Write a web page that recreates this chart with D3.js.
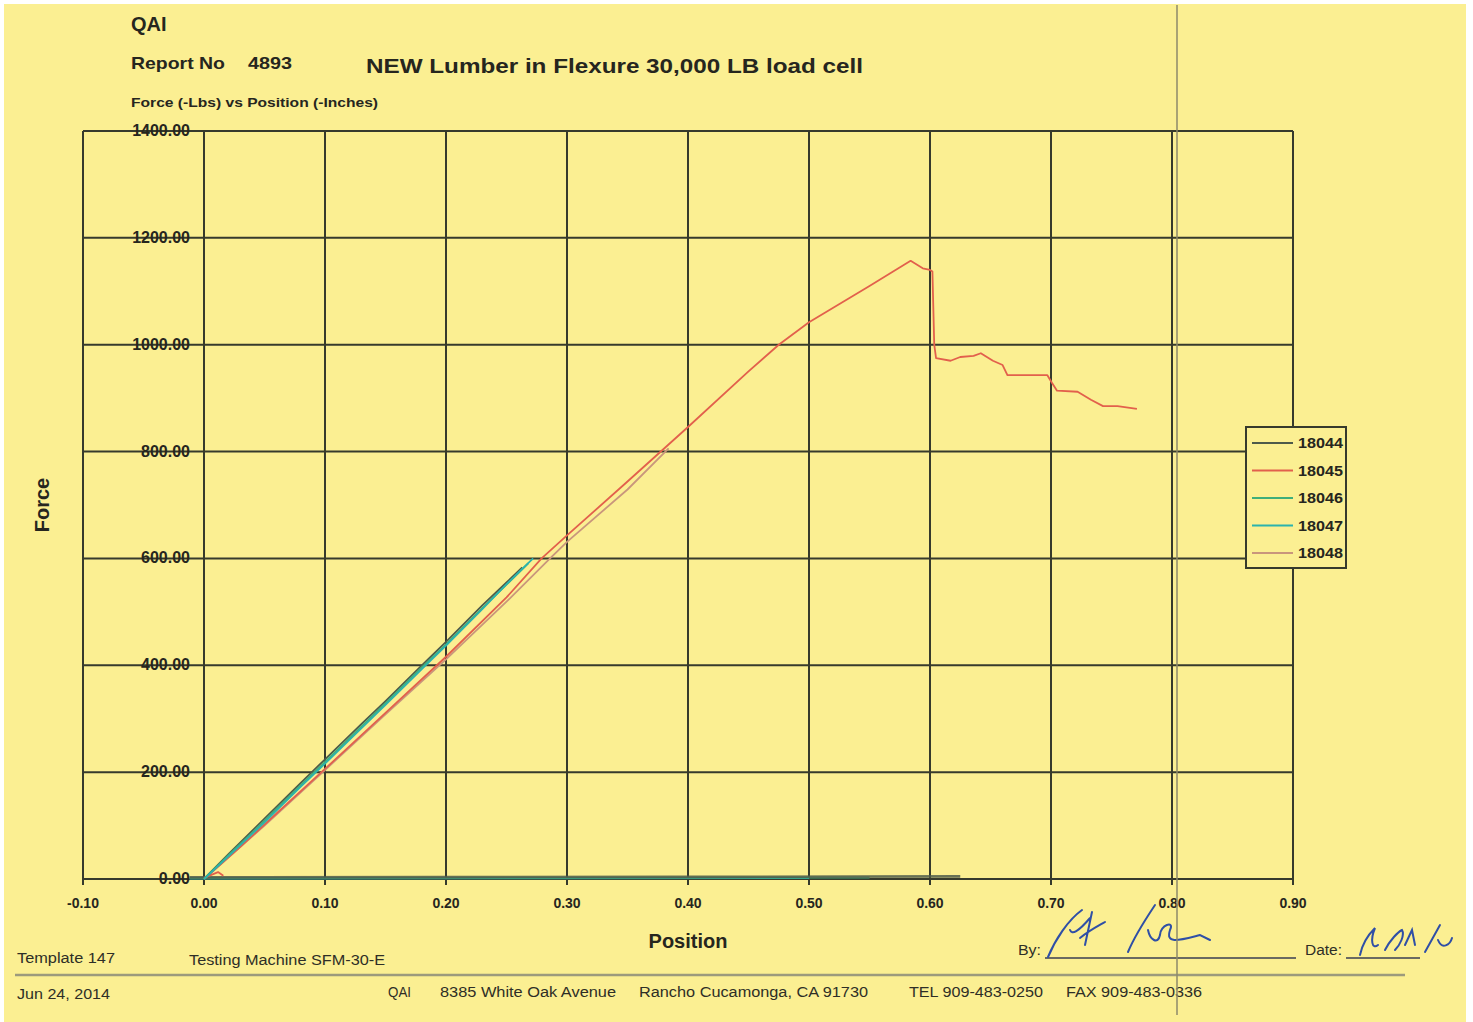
<!DOCTYPE html>
<html><head><meta charset="utf-8">
<script src="https://cdn.jsdelivr.net/npm/d3@7"></script>
<style>
html,body{margin:0;padding:0;background:#fff;}
text{font-family:"Liberation Sans",Arial,sans-serif;}
</style></head>
<body>
<svg id="chart" width="1473" height="1022"></svg>
<script>
// ---- data ----
const xTicks = [-0.10,0.00,0.10,0.20,0.30,0.40,0.50,0.60,0.70,0.80,0.90];
const yTicks = [0,200,400,600,800,1000,1200,1400];
const seriesNames = ["18044","18045","18046","18047","18048"];
const seriesColors = ["#4d5a4a","#e2604c","#3fae7a","#2bb3ad","#c9967c"];

const s18044 = [[0,0],[0.02,46],[0.05,113],[0.08,180],[0.1,224],[0.13,290],[0.15,333],[0.18,400],[0.2,444],[0.23,512],[0.25,555],[0.263,583]];
const s18044tail = [[-0.012,3],[0.2,3.5],[0.4,4],[0.625,5]];
const s18045 = [[0,0],[0.03,60],[0.05,102],[0.1,206],[0.15,311],[0.2,416],[0.25,527],[0.279,600],[0.3,643],[0.35,744],[0.4,846],[0.45,950],[0.475,1000],[0.5,1042],[0.55,1110],[0.584,1157],[0.589,1150],[0.594,1143],[0.6,1140],[0.602,1137],[0.6035,1000],[0.605,975],[0.617,970],[0.625,977],[0.636,979],[0.642,984],[0.652,970],[0.66,962],[0.664,943],[0.697,943],[0.701,928],[0.705,914],[0.722,912],[0.733,897],[0.743,885],[0.755,885],[0.771,880]];
const s18045hook = [[0,2],[0.0116,13],[0.016,6]];
const s18046 = [[0,0],[0.02,44],[0.05,109],[0.08,176],[0.1,219],[0.13,285],[0.15,329],[0.18,396],[0.2,439],[0.23,507],[0.25,551],[0.268,591]];
const s18046tail = [[-0.012,2],[0.3,2.5],[0.55,3]];
const s18047 = [[0,0],[0.02,42],[0.05,106],[0.08,173],[0.1,216],[0.13,282],[0.15,326],[0.18,393],[0.2,437],[0.23,505],[0.25,552],[0.272,600]];
const s18047tail = [[-0.012,1],[0.3,1.5],[0.5,2]];
const s18048 = [[0,0],[0.05,100],[0.1,204],[0.15,308],[0.2,411],[0.25,519],[0.286,600],[0.3,631],[0.35,729],[0.384,806]];

// draw order: tails first, then loading curves
const tails = [
  {color:seriesColors[3], data:s18047tail, w:2},
  {color:seriesColors[2], data:s18046tail, w:2},
  {color:seriesColors[0], data:s18044tail, w:2.6}
];
const curves = [
  {color:seriesColors[4], data:s18048},
  {color:seriesColors[1], data:s18045},
  {color:seriesColors[1], data:s18045hook},
  {color:seriesColors[0], data:s18044},
  {color:seriesColors[2], data:s18046},
  {color:seriesColors[3], data:s18047}
];

// ---- layout ----
const svg = d3.select("#chart");
const L=83, R=1293, T=131, B=879;
const x = d3.scaleLinear().domain([-0.1,0.9]).range([L,R]);
const y = d3.scaleLinear().domain([0,1400]).range([B,T]);
const gridColor = "#363a2c";
const txt = "#26261e";
const fmt = d => d3.format(".2f")(d).replace("\u2212","-");

// paper
svg.append("rect").attr("x",4).attr("y",4).attr("width",1462).attr("height",1018).attr("fill","#fbef92");

// header texts
svg.append("text").attr("x",131).attr("y",31).attr("font-size",20).attr("font-weight","bold").attr("fill",txt).text("QAI");
svg.append("text").attr("x",131).attr("y",69).attr("font-size",17).attr("font-weight","bold").attr("fill",txt).attr("textLength",94).attr("lengthAdjust","spacingAndGlyphs").text("Report No");
svg.append("text").attr("x",248).attr("y",69).attr("font-size",17).attr("font-weight","bold").attr("fill",txt).attr("textLength",44).attr("lengthAdjust","spacingAndGlyphs").text("4893");
svg.append("text").attr("x",366).attr("y",73).attr("font-size",20).attr("font-weight","bold").attr("fill",txt).attr("textLength",497).attr("lengthAdjust","spacingAndGlyphs").text("NEW Lumber in Flexure 30,000 LB load cell");
svg.append("text").attr("x",131).attr("y",107).attr("font-size",13).attr("font-weight","bold").attr("fill",txt).attr("textLength",247).attr("lengthAdjust","spacingAndGlyphs").text("Force (-Lbs) vs Position (-Inches)");

// gridlines
const g = svg.append("g");
g.selectAll(".vg").data(xTicks).join("line")
  .attr("x1",d=>x(d)).attr("x2",d=>x(d)).attr("y1",T).attr("y2",B+6)
  .attr("stroke",gridColor).attr("stroke-width",2);
g.selectAll(".hg").data(yTicks).join("line")
  .attr("x1",L).attr("x2",R).attr("y1",d=>y(d)).attr("y2",d=>y(d))
  .attr("stroke",gridColor).attr("stroke-width",2);

// y tick labels (sit on the gridlines)
g.selectAll(".yl").data(yTicks).join("text")
  .attr("x",190).attr("y",d=>y(d)+5).attr("text-anchor","end")
  .attr("font-size",16).attr("font-weight","bold").attr("fill",txt)
  .text(fmt);
// x tick labels
g.selectAll(".xl").data(xTicks).join("text")
  .attr("x",d=>x(d)).attr("y",908).attr("text-anchor","middle")
  .attr("font-size",14).attr("font-weight","bold").attr("fill",txt)
  .text(fmt);

// axis titles
svg.append("text").attr("transform","translate(49,505) rotate(-90)").attr("text-anchor","middle")
  .attr("font-size",20).attr("font-weight","bold").attr("fill",txt).text("Force");
svg.append("text").attr("x",688).attr("y",948).attr("text-anchor","middle")
  .attr("font-size",20).attr("font-weight","bold").attr("fill",txt).text("Position");

// series lines
const line = d3.line().x(d=>x(d[0])).y(d=>y(d[1]));
const sg = svg.append("g");
tails.forEach(s=>{
  sg.append("path").attr("d",line(s.data)).attr("fill","none")
    .attr("stroke",s.color).attr("stroke-width",s.w).attr("stroke-opacity",0.85);
});
curves.forEach(s=>{
  sg.append("path").attr("d",line(s.data)).attr("fill","none")
    .attr("stroke",s.color).attr("stroke-width",1.8).attr("stroke-linejoin","round");
});

// legend
const lg = svg.append("g");
lg.append("rect").attr("x",1246).attr("y",427).attr("width",100).attr("height",141)
  .attr("fill","#fbef92").attr("stroke",gridColor).attr("stroke-width",2);
seriesNames.forEach((n,i)=>{
  const cy = 443 + i*27.5;
  lg.append("line").attr("x1",1252).attr("x2",1293).attr("y1",cy).attr("y2",cy)
    .attr("stroke",seriesColors[i]).attr("stroke-width",2);
  lg.append("text").attr("x",1298).attr("y",cy+5).attr("font-size",14).attr("font-weight","bold")
    .attr("fill",txt).attr("textLength",45).attr("lengthAdjust","spacingAndGlyphs").text(n);
});

// footer
const ft = (tx,xx,yy,len)=>svg.append("text").attr("x",xx).attr("y",yy).attr("font-size",14)
  .attr("fill","#2e2e26").attr("textLength",len).attr("lengthAdjust","spacingAndGlyphs").text(tx);
ft("Template 147",17,963,98);
ft("Testing Machine SFM-30-E",189,965,196);
ft("Jun 24, 2014",17,999,93);
ft("QAI",388,997,23);
ft("8385 White Oak Avenue",440,997,176);
ft("Rancho Cucamonga, CA 91730",639,997,229);
ft("TEL 909-483-0250",909,997,134);
ft("FAX 909-483-0336",1066,997,136);
ft("By:",1018,955,23);
ft("Date:",1305,955,37);
svg.append("line").attr("x1",15).attr("x2",1405).attr("y1",975).attr("y2",975).attr("stroke","#9c9a7c").attr("stroke-width",2.5);
svg.append("line").attr("x1",1045).attr("x2",1296).attr("y1",958).attr("y2",958).attr("stroke","#3a3e50").attr("stroke-width",1.5);
svg.append("line").attr("x1",1346).attr("x2",1420).attr("y1",958).attr("y2",958).attr("stroke","#3a3e50").attr("stroke-width",1.5);

// signature (handwriting strokes)
const sig = svg.append("g").attr("fill","none").attr("stroke","#2f4fa6").attr("stroke-width",2).attr("stroke-linecap","round");
sig.append("path").attr("d","M1048,957 C1055,940 1068,920 1082,910 M1070,930 C1072,935 1078,932 1090,918 M1092,912 L1085,945 M1080,938 C1090,930 1100,925 1105,922");
sig.append("path").attr("d","M1128,952 C1135,935 1145,920 1155,905 M1148,930 C1150,940 1158,945 1160,935 C1160,925 1175,920 1170,930 C1165,945 1180,940 1200,935 L1210,940");
sig.append("path").attr("d","M1360,955 C1362,945 1368,935 1375,928 C1370,940 1372,950 1378,945 M1385,950 C1390,940 1398,932 1402,930 C1405,935 1400,945 1395,950 M1405,945 L1412,930 L1415,945 M1425,952 L1440,925 M1438,940 C1442,950 1450,945 1452,938");
// vertical paper fold line
svg.append("line").attr("x1",1177).attr("x2",1177).attr("y1",5).attr("y2",1015).attr("stroke","#8e8a6a").attr("stroke-width",1.5);
</script>
</body></html>
